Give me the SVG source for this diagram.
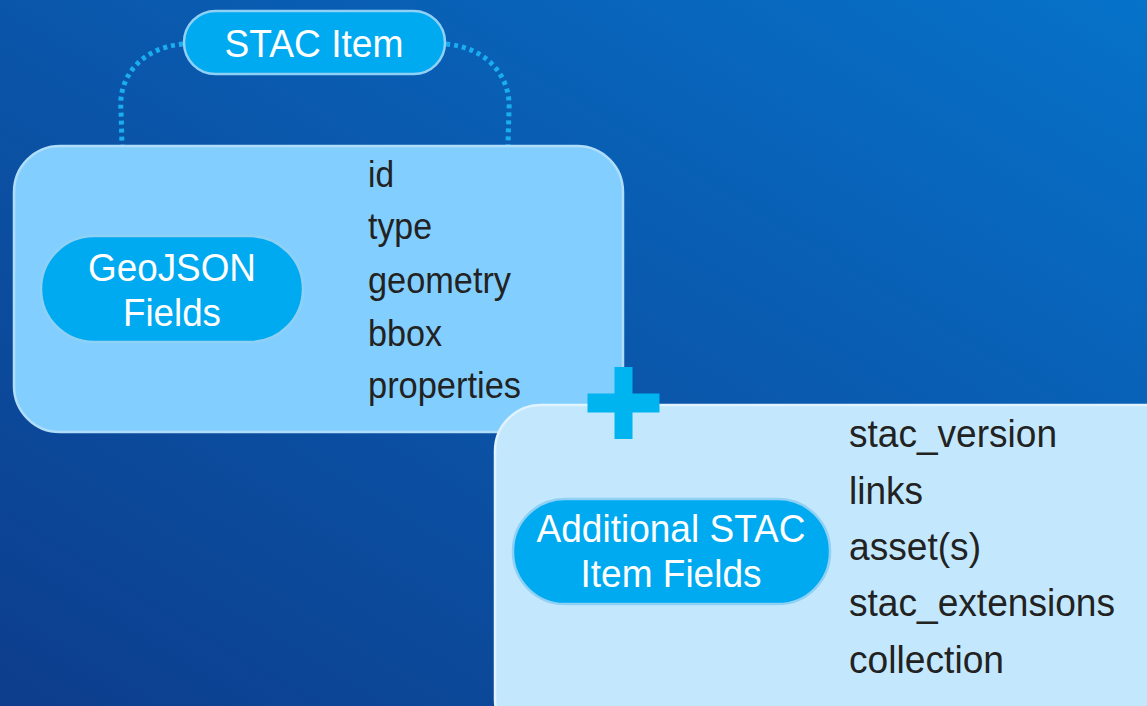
<svg xmlns="http://www.w3.org/2000/svg" width="1147" height="706" viewBox="0 0 1147 706">
<defs>
<linearGradient id="bg" x1="0" y1="1" x2="1" y2="0">
<stop offset="0" stop-color="#0d3d8c"/>
<stop offset="0.5" stop-color="#0a56aa"/>
<stop offset="1" stop-color="#0672c9"/>
</linearGradient>
<style>
.pill{fill:#00aaf0;stroke:#8fd0f5;stroke-width:2.5}
.pt{font-family:"Liberation Sans",Arial,sans-serif;fill:#ffffff;font-size:39px;text-anchor:middle}
.lt{font-family:"Liberation Sans",Arial,sans-serif;fill:#222222}
.conn{fill:none;stroke:#1aaef0;stroke-width:5;stroke-dasharray:4 4}
</style>
</defs>
<rect x="0" y="0" width="1147" height="706" fill="url(#bg)"/>
<g id="connectors">
<path class="conn" d="M183,44 C140,48 118,78 121,110 L122,145"/>
<path class="conn" d="M446,44 C489,48 511,78 509,110 L508,145"/>
</g>
<g id="geojson-box">
<rect x="14" y="146" width="609" height="286" rx="46" fill="#82cfff" stroke="#b0ddfa" stroke-width="2.5"/>
<rect class="pill" x="41" y="236" width="262" height="106" rx="53"/>
<text class="pt" x="172" y="281" textLength="168" lengthAdjust="spacingAndGlyphs">GeoJSON</text>
<text class="pt" x="172" y="326" textLength="98" lengthAdjust="spacingAndGlyphs">Fields</text>
<g class="lt" font-size="36">
<text x="368" y="187" textLength="26" lengthAdjust="spacingAndGlyphs">id</text>
<text x="368" y="239" textLength="64" lengthAdjust="spacingAndGlyphs">type</text>
<text x="368" y="293" textLength="143" lengthAdjust="spacingAndGlyphs">geometry</text>
<text x="368" y="346" textLength="74" lengthAdjust="spacingAndGlyphs">bbox</text>
<text x="368" y="398" textLength="153" lengthAdjust="spacingAndGlyphs">properties</text>
</g>
</g>
<g id="stac-fields-box">
<rect x="495" y="405" width="700" height="340" rx="46" fill="#c3e8fd" stroke="#e0f3fe" stroke-width="2.5"/>
<rect class="pill" x="513" y="499" width="317" height="105" rx="52"/>
<text class="pt" x="671" y="542" textLength="269" lengthAdjust="spacingAndGlyphs">Additional STAC</text>
<text class="pt" x="671" y="587" textLength="181" lengthAdjust="spacingAndGlyphs">Item Fields</text>
<g class="lt" font-size="38">
<text x="849" y="447" textLength="208" lengthAdjust="spacingAndGlyphs">stac_version</text>
<text x="849" y="504" textLength="74" lengthAdjust="spacingAndGlyphs">links</text>
<text x="849" y="560" textLength="132" lengthAdjust="spacingAndGlyphs">asset(s)</text>
<text x="849" y="616" textLength="266" lengthAdjust="spacingAndGlyphs">stac_extensions</text>
<text x="849" y="673" textLength="155" lengthAdjust="spacingAndGlyphs">collection</text>
</g>
</g>
<g id="plus">
<rect x="614.5" y="367" width="18" height="72" fill="#00b4f0"/>
<rect x="587.5" y="393.5" width="72" height="19" fill="#00b4f0"/>
</g>
<g id="stac-item">
<rect class="pill" x="184" y="11" width="261" height="63" rx="31.5"/>
<text class="pt" x="314" y="57" textLength="179" lengthAdjust="spacingAndGlyphs">STAC Item</text>
</g>
</svg>
